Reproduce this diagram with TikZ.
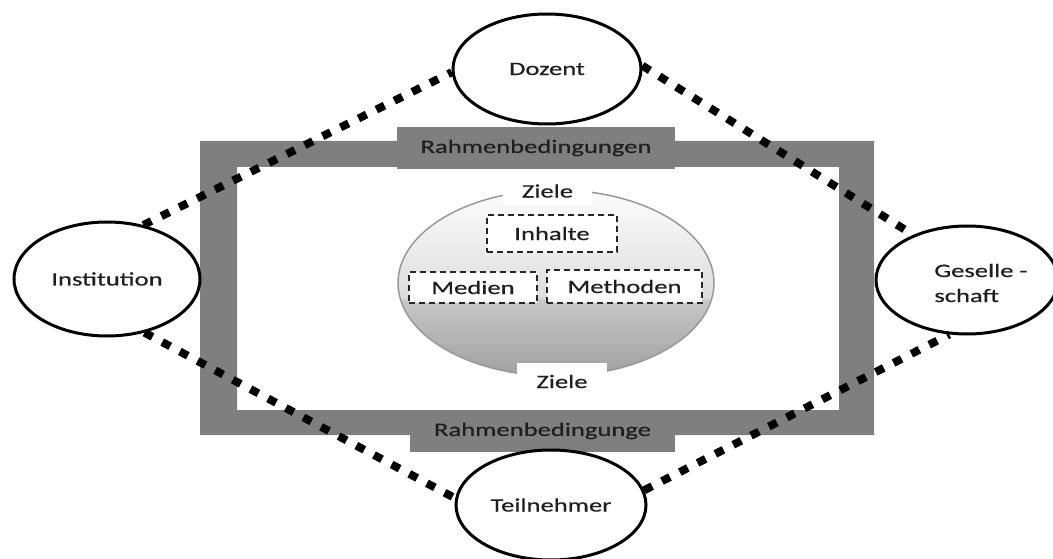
\documentclass[tikz,border=0pt]{standalone}
\usepackage{fontspec}
\setmainfont{Carlito}[FakeStretch=1.4,FakeBold=0.5]
\usetikzlibrary{shapes.geometric}
\definecolor{framegray}{HTML}{7F7F7F}
\definecolor{zA}{HTML}{A0A0A0}
\definecolor{zB}{HTML}{C6C6C6}
\definecolor{zC}{HTML}{DEDEDE}
\definecolor{zD}{HTML}{FCFCFC}
\pgfdeclareverticalshading{zielshade}{100bp}{color(0bp)=(zA); color(25bp)=(zA); color(45bp)=(zB); color(46.5bp)=(zC); color(75bp)=(zD); color(100bp)=(zD)}
\begin{document}
\begin{tikzpicture}[x=1pt,y=-1pt,
  every node/.style={font=\fontsize{19}{25}\selectfont, text=black!88},
  actor/.style={ellipse, draw=black, line width=3pt, fill=white, inner sep=0pt},
  link/.style={line width=8pt, dash pattern=on 9pt off 11pt, draw=black},
  tabbox/.style={fill=framegray, inner sep=0pt},
  item/.style={draw=black!85, line width=1.8pt, dash pattern=on 6pt off 4pt, fill=white, inner sep=0pt},
  zlabel/.style={fill=white, inner sep=0pt}]
\useasboundingbox (0,0) rectangle (1053,559);
\clip (0,0) rectangle (1053,559);
% frame
\fill[framegray, even odd rule] (200,141) rectangle (874,435) (237,167) rectangle (839,410);
\node[tabbox, minimum width=278pt, minimum height=42pt] (rtop) at (536,148) {Rahmenbedingungen};
\node[tabbox, minimum width=265pt, minimum height=42pt] (rbot) at (542.5,431) {Rahmenbedingunge};
% central ellipse
\node[ellipse, minimum width=316pt, minimum height=186pt, shading=zielshade, draw=black!40, line width=1.5pt] (ziel) at (556,283) {};
\node[zlabel, minimum width=89pt, minimum height=28pt] (zt) at (547.5,191) {Ziele};
\node[zlabel, minimum width=90pt, minimum height=37pt] (zb) at (562,381.5) {Ziele};
\node[item, minimum width=130pt, minimum height=37pt] (inh) at (552,233.5) {Inhalte};
\node[item, minimum width=128pt, minimum height=31pt] (med) at (473,287.5) {Medien};
\node[item, minimum width=155pt, minimum height=33pt] (met) at (624.5,286.5) {Methoden};
% actors
\node[actor, minimum width=188pt, minimum height=110pt] (doz) at (547,69) {Dozent};
\node[actor, minimum width=186pt, minimum height=114pt] (inst) at (107,279) {Institution};
\node[actor, minimum width=182pt, minimum height=108pt] (ges) at (967,280) {};
\node[align=left, inner sep=0pt] (gest) at (981,283) {Geselle -\\schaft};
\node[actor, minimum width=190pt, minimum height=110pt] (teil) at (551,505) {Teilnehmer};
% links
\draw[link] (inst.56) -- (doz.182);
\draw[link] (doz.2) -- (ges.140);
\draw[link] (inst.305) -- (teil.176);
\draw[link] (teil.9) -- (ges.252);
\end{tikzpicture}
\end{document}
